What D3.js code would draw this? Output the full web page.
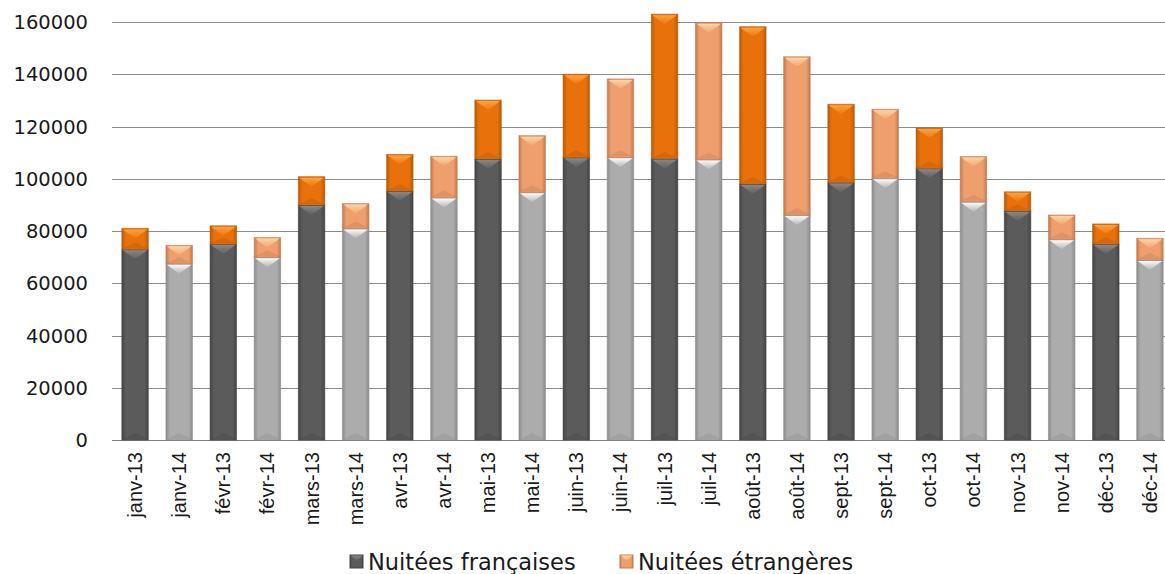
<!DOCTYPE html>
<html><head><meta charset="utf-8">
<script src="https://cdn.jsdelivr.net/npm/d3@7"></script>
<style>html,body{margin:0;padding:0;background:#fff;}svg{display:block;}</style>
</head><body>
<svg id="chart" width="1165" height="574"></svg>
<script>
const categories = ["janv-13","janv-14","févr-13","févr-14","mars-13","mars-14","avr-13","avr-14","mai-13","mai-14","juin-13","juin-14","juil-13","juil-14","août-13","août-14","sept-13","sept-14","oct-13","oct-14","nov-13","nov-14","déc-13","déc-14"];
const francaises = [73000,67500,75000,70000,90000,81000,95300,92800,107600,94800,108200,108200,107700,107400,98000,86100,98600,100200,104000,91200,87700,76800,75000,68900];
const etrangeres = [8000,7000,7000,7500,10800,9500,14000,15800,22500,21700,31800,30000,55300,52300,60200,60600,29900,26400,15400,17300,7300,9300,7700,8300];
const yTicks = [0,20000,40000,60000,80000,100000,120000,140000,160000];
const seriesNames = ["Nuitées françaises","Nuitées étrangères"];

const svg = d3.select("#chart");
const x = d3.scaleBand().domain(categories).range([113,1172]).paddingInner(0.4).paddingOuter(0.2);
const y = d3.scaleLinear().domain([0,160000]).range([440,22]);

const defs = svg.append("defs");
// colour sets: [base, edgeDark, highlight]
const palettes = {
  f13:["#5b5b5b","#444444","#8a8a8a"],
  f14:["#acacac","#8c8c8c","#ffffff"],
  e13:["#e8710c","#b85a08","#ffa640"],
  e14:["#ef9f6e","#c27a50","#ffd7a6"]
};
Object.entries(palettes).forEach(([k,c])=>{
  const g = defs.append("linearGradient").attr("id","g_"+k).attr("x1","0").attr("x2","1").attr("y1","0").attr("y2","0");
  g.append("stop").attr("offset","0").attr("stop-color",c[1]);
  g.append("stop").attr("offset","0.15").attr("stop-color",c[0]);
  g.append("stop").attr("offset","0.85").attr("stop-color",c[0]);
  g.append("stop").attr("offset","1").attr("stop-color",c[1]);
  const h = defs.append("linearGradient").attr("id","h_"+k).attr("x1","0").attr("x2","0").attr("y1","0").attr("y2","1");
  h.append("stop").attr("offset","0").attr("stop-color",c[2]).attr("stop-opacity",0.95);
  h.append("stop").attr("offset","1").attr("stop-color",c[2]).attr("stop-opacity",0.1);
});

// gridlines
svg.append("g").selectAll("line").data(yTicks).join("line")
  .attr("x1",112).attr("x2",1165).attr("y1",d=>Math.round(y(d))+0.5).attr("y2",d=>Math.round(y(d))+0.5)
  .attr("stroke",d=>d===0?"#7f7f7f":"#8c8c8c").attr("stroke-width",1);

// y tick labels
svg.append("g").selectAll("text").data(yTicks).join("text")
  .attr("x",88).attr("y",d=>y(d)).attr("dy","0.36em").attr("text-anchor","end")
  .attr("font-family","DejaVu Sans, sans-serif").attr("font-size",19.5).attr("fill","#1a1a1a")
  .text(d=>d);

// bars
const rows = categories.map((c,i)=>({c,i,f:francaises[i],e:etrangeres[i],yr:c.endsWith("13")?"13":"14"}));
const segs = [];
rows.forEach(r=>{
  segs.push({c:r.c,y0:0,y1:r.f,key:"f"+r.yr});
  segs.push({c:r.c,y0:r.f,y1:r.f+r.e,key:"e"+r.yr});
});
const bw = x.bandwidth();
const bars = svg.append("g");
const sg = bars.selectAll("g").data(segs).join("g");
sg.append("rect")
  .attr("x",d=>x(d.c)).attr("width",bw)
  .attr("y",d=>y(d.y1)).attr("height",d=>y(d.y0)-y(d.y1))
  .attr("fill",d=>"url(#g_"+d.key+")")
  .attr("stroke",d=>palettes[d.key][1]).attr("stroke-opacity",0.6).attr("stroke-width",1);
// top bevel chevron
sg.append("path")
  .attr("d",d=>{
    const x0=x(d.c)+1, x1=x(d.c)+bw-1, yt=y(d.y1)+1, h=Math.min(9,(y(d.y0)-y(d.y1))*0.5);
    return `M${x0},${yt}L${x1},${yt}L${(x0+x1)/2},${yt+h}Z`;
  })
  .attr("fill",d=>"url(#h_"+d.key+")");
// bottom subtle shade
sg.append("path")
  .attr("d",d=>{
    const x0=x(d.c)+1, x1=x(d.c)+bw-1, yb=y(d.y0)-1, h=Math.min(6,(y(d.y0)-y(d.y1))*0.3);
    return `M${x0},${yb}L${x1},${yb}L${(x0+x1)/2},${yb-h}Z`;
  })
  .attr("fill",d=>palettes[d.key][1]).attr("opacity",0.35);

// x labels
svg.append("g").selectAll("text").data(categories).join("text")
  .attr("transform",d=>`translate(${x(d)+bw/2},452) rotate(-90)`)
  .attr("text-anchor","end").attr("dy","0.35em")
  .attr("font-family","Liberation Sans, Arial, sans-serif").attr("font-size",20).attr("fill","#1a1a1a")
  .text(d=>d);

// legend
const legend = svg.append("g");
const legItems = [{name:seriesNames[0],key:"f13",x:350},{name:seriesNames[1],key:"e14",x:620}];
const lg = legend.selectAll("g").data(legItems).join("g").attr("transform",d=>`translate(${d.x},555)`);
lg.append("rect").attr("width",13).attr("height",13).attr("fill",d=>"url(#g_"+d.key+")")
  .attr("stroke",d=>palettes[d.key][1]).attr("stroke-width",1);
lg.append("path").attr("d","M0.5,0.5L12.5,0.5L6.5,6Z").attr("fill",d=>"url(#h_"+d.key+")");
lg.append("text").attr("x",18).attr("y",7).attr("dy","0.36em")
  .attr("font-family","DejaVu Sans, sans-serif").attr("font-size",22.5).attr("fill","#1a1a1a")
  .text(d=>d.name);
</script>
</body></html>
